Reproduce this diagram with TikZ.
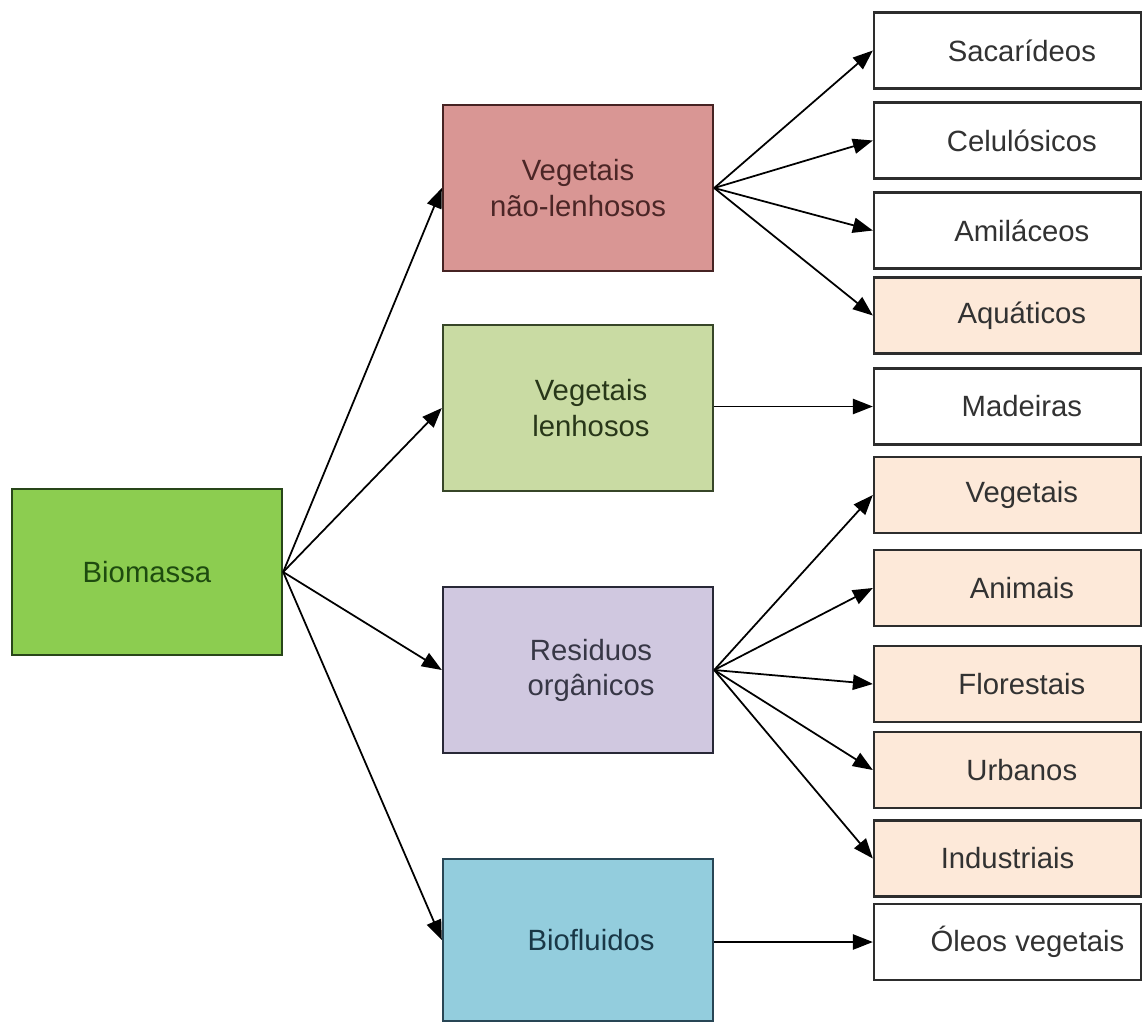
\documentclass[tikz,border=0pt]{standalone}
\usepackage{fontspec}
\setmainfont{Liberation Sans}
\usetikzlibrary{arrows.meta}

\definecolor{bioFill}{RGB}{140,205,80}
\definecolor{bioLine}{RGB}{40,70,25}
\definecolor{bioText}{RGB}{30,75,15}
\definecolor{nlFill}{RGB}{217,150,148}
\definecolor{nlLine}{RGB}{70,35,35}
\definecolor{nlText}{RGB}{75,38,38}
\definecolor{lFill}{RGB}{201,219,163}
\definecolor{lLine}{RGB}{55,70,40}
\definecolor{lText}{RGB}{40,55,25}
\definecolor{rFill}{RGB}{208,200,224}
\definecolor{rLine}{RGB}{40,40,55}
\definecolor{rText}{RGB}{55,55,70}
\definecolor{bfFill}{RGB}{147,205,221}
\definecolor{bfLine}{RGB}{40,70,85}
\definecolor{bfText}{RGB}{25,55,70}
\definecolor{peach}{RGB}{253,233,217}
\definecolor{leafLine}{RGB}{45,45,45}
\definecolor{leafText}{RGB}{50,50,50}

\tikzset{
  x=0.03cm, y=-0.03cm,
  txt/.style={font=\fontsize{25}{30}\selectfont, align=center},
  midbox/.style={draw, line width=2pt, minimum width=8.1cm, minimum height=4.98cm, inner sep=0pt},
  leafbox/.style={draw=leafLine, line width=2pt, minimum width=8.01cm, minimum height=2.28cm, inner sep=0pt, fill=white},
  peachbox/.style={leafbox, fill=peach},
  leaftext/.style={txt, text=leafText, xshift=0.43cm},
  link/.style={line width=1.5pt, -{Triangle[length=17pt, width=13pt]}},
}

\begin{document}
\begin{tikzpicture}
\useasboundingbox (0,0) rectangle (1143,1024);

% root
\node[midbox, fill=bioFill, draw=bioLine, label={[txt, text=bioText]center:Biomassa}] (bio) at (147,572) {};

% main groups
\node[midbox, fill=nlFill, draw=nlLine, label={[txt, text=nlText]center:Vegetais\\não-lenhosos}] (nl) at (578,188) {};
\node[midbox, fill=lFill, draw=lLine, label={[txt, text=lText, xshift=0.39cm]center:Vegetais\\lenhosos}] (len) at (578,408) {};
\node[midbox, fill=rFill, draw=rLine, label={[txt, text=rText, xshift=0.39cm]center:Residuos\\orgânicos}] (res) at (578,670) {};
\node[midbox, fill=bfFill, draw=bfLine, minimum height=4.86cm, label={[txt, text=bfText, xshift=0.39cm]center:Biofluidos}] (bf) at (578,940) {};

% leaves
\node[leafbox, label={[leaftext]center:Sacarídeos}] (sac) at (1007.5,50.5) {};
\node[leafbox, label={[leaftext]center:Celulósicos}] (cel) at (1007.5,140.5) {};
\node[leafbox, label={[leaftext]center:Amiláceos}] (ami) at (1007.5,230.5) {};
\node[peachbox, label={[leaftext]center:Aquáticos}] (aqu) at (1007.5,315.5) {};
\node[leafbox, label={[leaftext]center:Madeiras}] (mad) at (1007.5,406.5) {};
\node[peachbox, label={[leaftext]center:Vegetais}] (veg) at (1007.5,495) {};
\node[peachbox, label={[leaftext]center:Animais}] (ani) at (1007.5,588) {};
\node[peachbox, label={[leaftext]center:Florestais}] (flo) at (1007.5,684) {};
\node[peachbox, label={[leaftext]center:Urbanos}] (urb) at (1007.5,770) {};
\node[peachbox, label={[leaftext, xshift=-0.43cm]center:Industriais}] (ind) at (1007.5,858.5) {};
\node[leafbox, label={[leaftext, xshift=0.17cm]center:Óleos vegetais}] (ole) at (1007.5,942) {};

% root to groups
\foreach \t in {nl,len,res,bf}
  \draw[link] (bio.east) -- (\t.west);

% groups to leaves
\foreach \t in {sac,cel,ami,aqu}
  \draw[link] (nl.east) -- (\t.west);
\draw[link] (len.east |- mad.west) -- (mad.west);
\foreach \t in {veg,ani,flo,urb,ind}
  \draw[link] (res.east) -- (\t.west);
\draw[link] (bf.east |- ole.west) -- (ole.west);
\end{tikzpicture}
\end{document}
